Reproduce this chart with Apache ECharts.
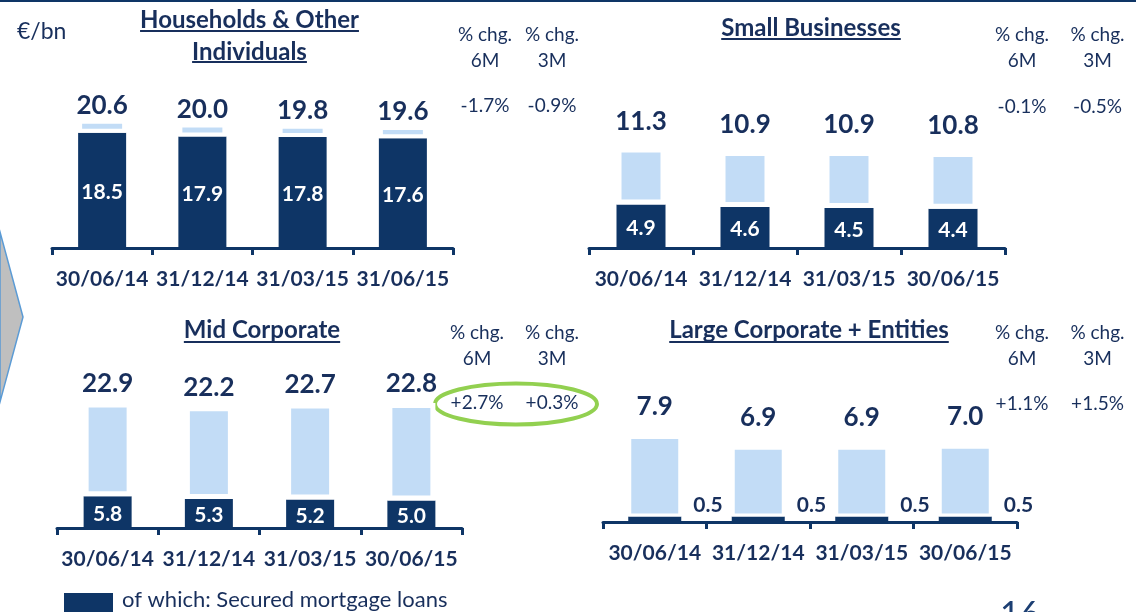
<!DOCTYPE html>
<html><head><meta charset="utf-8">
<script src="https://cdn.jsdelivr.net/npm/echarts@6/dist/echarts.min.js"></script>
<style>html,body{margin:0;padding:0;background:#fff}#c{width:1136px;height:612px}</style>
</head><body><div id="c"></div>
<script>
// ---------------- data ----------------
const datesHouseholds = ['30/06/14', '31/12/14', '31/03/15', '31/06/15'];
const datesOther = ['30/06/14', '31/12/14', '31/03/15', '30/06/15'];
const householdsTotal = [20.6, 20.0, 19.8, 19.6];
const householdsSecured = [18.5, 17.9, 17.8, 17.6];
const smallTotal = [11.3, 10.9, 10.9, 10.8];
const smallSecured = [4.9, 4.6, 4.5, 4.4];
const midTotal = [22.9, 22.2, 22.7, 22.8];
const midSecured = [5.8, 5.3, 5.2, 5.0];
const largeTotal = [7.9, 6.9, 6.9, 7.0];
const largeSecured = [0.5, 0.5, 0.5, 0.5];
const panelTitles = [['Households & Other', 'Individuals'], ['Small Businesses'], ['Mid Corporate'], ['Large Corporate + Entities']];
const chg6M = ['-1.7%', '-0.1%', '+2.7%', '+1.1%'];
const chg3M = ['-0.9%', '-0.5%', '+0.3%', '+1.5%'];
const legendLabel = 'of which: Secured mortgage loans';
const unitLabel = '€/bn';

// ---------------- style ----------------
const NAVY = '#0e3566', LIGHT = '#c2dcf6', TXT = '#182f5c', FONT = 'Lato';

const panels = [
  {cats: datesHouseholds, total: householdsTotal, secured: householdsSecured,
   grid: {left: 52, right: 683, top: 61.1, bottom: 364}, max: 30, barWidth: 48, border: 4, topDist: 1, xMargin: 21},
  {cats: datesOther, total: smallTotal, secured: smallSecured,
   grid: {left: 589, right: 131, top: 70, bottom: 364}, max: 20, barWidth: 49, border: 5, topDist: 13, xMargin: 21},
  {cats: datesOther, total: midTotal, secured: midSecured,
   grid: {left: 57, right: 674, top: 308.8, bottom: 84}, max: 40, barWidth: 48, border: 5, topDist: 6, xMargin: 21},
  {cats: datesOther, total: largeTotal, secured: largeSecured,
   grid: {left: 603, right: 119, top: 304, bottom: 90}, max: 20, barWidth: 53, border: 3, topDist: 16, xMargin: 21, outsideLabel: true}
];

const grids = [], xAxes = [], yAxes = [], series = [];
panels.forEach((p, i) => {
  grids.push(Object.assign({containLabel: false}, p.grid));
  xAxes.push({
    type: 'category', gridIndex: i, data: p.cats,
    axisLine: {lineStyle: {color: NAVY, width: 3}},
    axisTick: {show: true, length: 7, lineStyle: {color: NAVY, width: 3}},
    axisLabel: {interval: 0, color: TXT, fontFamily: FONT, fontWeight: 'bold', fontSize: 21, margin: p.xMargin}
  });
  yAxes.push({type: 'value', gridIndex: i, min: 0, max: p.max, show: false, splitLine: {show: false}});
  series.push({
    type: 'bar', name: legendLabel, xAxisIndex: i, yAxisIndex: i, stack: 's' + i,
    data: p.secured, barWidth: p.barWidth, z: 2,
    itemStyle: {color: NAVY},
    label: p.outsideLabel ?
      {show: true, position: 'right', distance: 12, offset: [0, -14], color: TXT, fontFamily: FONT, fontWeight: 'bold', fontSize: 21,
       formatter: (q) => p.secured[q.dataIndex].toFixed(1)} :
      {show: true, position: 'inside', offset: [0, 2], color: '#ffffff', fontFamily: FONT, fontWeight: 'bold', fontSize: 21,
       formatter: (q) => p.secured[q.dataIndex].toFixed(1)}
  });
  series.push({
    type: 'bar', name: 'Other', xAxisIndex: i, yAxisIndex: i, stack: 's' + i,
    data: p.total.map((t, k) => Math.round((t - p.secured[k]) * 10) / 10),
    barWidth: p.barWidth, z: 2,
    itemStyle: {color: LIGHT, borderColor: '#ffffff', borderWidth: p.border},
    label: {show: true, position: 'top', distance: p.topDist, color: TXT, fontFamily: FONT, fontWeight: 'bold', fontSize: 26,
      formatter: (q) => p.total[q.dataIndex].toFixed(1)}
  });
});

// text measuring for underlines
const ctx = document.createElement('canvas').getContext('2d');
function textW(t, font) { ctx.font = font; return ctx.measureText(t).width; }

const graphics = [];
function txt(text, x, y, size, weight, align) {
  graphics.push({type: 'text', silent: true, style: {text: text, x: x, y: y, fontSize: size, fontWeight: weight || 'normal',
    fontFamily: FONT, fill: TXT, align: align || 'center', verticalAlign: 'middle'}});
}
// top rule
graphics.push({type: 'rect', shape: {x: 0, y: 0, width: 1136, height: 2}, style: {fill: NAVY}, silent: true});
// chevron on the left
graphics.push({type: 'polygon', shape: {points: [[0, 232], [23, 317], [0, 402]]}, style: {fill: '#bfbfbf', stroke: '#5b9bd5', lineWidth: 1.5}, silent: true});
txt(unitLabel, 17, 32, 23, 'normal', 'left');

// titles with underline
const titlePos = [
  {cx: 249.5, ys: [20, 52], uy: [31, 62]},
  {cx: 811, ys: [28], uy: [39]},
  {cx: 262, ys: [330], uy: [342]},
  {cx: 809, ys: [330], uy: [342]}
];
const TITLE_SIZE = 24;
titlePos.forEach((tp, i) => {
  panelTitles[i].forEach((line, k) => {
    txt(line, tp.cx, tp.ys[k], TITLE_SIZE, 'bold');
    const w = textW(line, 'bold ' + TITLE_SIZE + 'px ' + FONT);
    graphics.push({type: 'line', silent: true, shape: {x1: tp.cx - w / 2, y1: tp.uy[k], x2: tp.cx + w / 2, y2: tp.uy[k]},
      style: {stroke: TXT, lineWidth: 2}});
  });
});

// % change columns
const chgPos = [
  {x6: 485, x3: 552, y1: 35, y2: 61, yv: 106},
  {x6: 1022, x3: 1097.5, y1: 35, y2: 61, yv: 107},
  {x6: 477, x3: 552, y1: 333, y2: 359, yv: 403},
  {x6: 1022, x3: 1097.5, y1: 333, y2: 359, yv: 404}
];
chgPos.forEach((c, i) => {
  txt('% chg.', c.x6, c.y1, 19); txt('6M', c.x6, c.y2, 19);
  txt('% chg.', c.x3, c.y1, 19); txt('3M', c.x3, c.y2, 19);
  txt(chg6M[i], c.x6, c.yv, 19); txt(chg3M[i], c.x3, c.yv, 19);
});
// green highlight ellipse
graphics.push({type: 'ellipse', silent: true, shape: {cx: 516, cy: 404, rx: 81, ry: 20.5}, style: {fill: 'none', stroke: '#92d050', lineWidth: 4}});
// legend key (secured mortgage loans)
graphics.push({type: 'rect', silent: true, shape: {x: 64, y: 593, width: 49, height: 24}, style: {fill: NAVY}});
txt(legendLabel, 122, 600, 22, 'normal', 'left');
// page number (cut off at the bottom)
graphics.push({type: 'text', silent: true, style: {text: '16', x: 1000, y: 598, fontSize: 34, fontFamily: FONT, fill: '#1c3f73', align: 'left', verticalAlign: 'top'}});

const chart = echarts.init(document.getElementById('c'), null, {renderer: 'canvas'});
chart.setOption({
  animation: false,
  backgroundColor: '#ffffff',
  grid: grids, xAxis: xAxes, yAxis: yAxes, series: series,
  graphic: graphics
});
</script></body></html>
